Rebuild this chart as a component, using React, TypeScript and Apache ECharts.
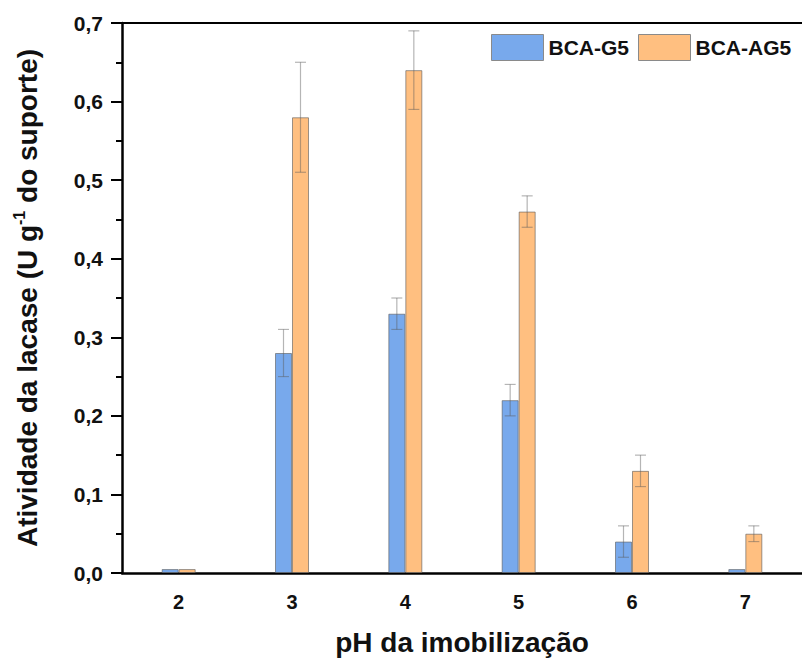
import React, { useEffect, useRef } from "react";
import * as echarts from "echarts";

const categories = ["2", "3", "4", "5", "6", "7"];
const g5Values = [0.005, 0.28, 0.33, 0.22, 0.04, 0.005];
const g5Errors = [0, 0.03, 0.02, 0.02, 0.02, 0];
const ag5Values = [0.005, 0.58, 0.64, 0.46, 0.13, 0.05];
const ag5Errors = [0, 0.07, 0.05, 0.02, 0.02, 0.01];
const seriesNames = ["BCA-G5", "BCA-AG5"];

const BAR_W = 17;
const FONT = "'Liberation Sans', Arial, sans-serif";

export default function App() {
  const ref = useRef<HTMLDivElement>(null);
  useEffect(() => {
    document.body.style.margin = "0";
    const chart = echarts.init(ref.current!, null, { renderer: "svg" });
    const errSeries = (name: string, vals: number[], errs: number[], offset: number) => ({
      type: "custom",
      name: name + "-err",
      z: 5,
      silent: true,
      data: vals.map((v, i) => [i, v, errs[i]]),
      renderItem: (params: any, api: any) => {
        const i = api.value(0);
        const v = api.value(1);
        const e = api.value(2);
        if (!e) return null;
        const top = api.coord([i, v + e]);
        const bot = api.coord([i, v - e]);
        const x = top[0] + offset;
        const cw = 5.5;
        const style = { stroke: "rgba(90,90,90,0.45)", lineWidth: 1.2 };
        return {
          type: "group",
          children: [
            { type: "line", shape: { x1: x, y1: top[1], x2: x, y2: bot[1] }, style },
            { type: "line", shape: { x1: x - cw, y1: top[1], x2: x + cw, y2: top[1] }, style },
            { type: "line", shape: { x1: x - cw, y1: bot[1], x2: x + cw, y2: bot[1] }, style },
          ],
        };
      },
    });
    chart.setOption({
      animation: false,
      grid: { left: 122, top: 23, width: 682, height: 550 },
      legend: {
        left: 486,
        top: 29,
        itemWidth: 52,
        itemHeight: 26,
        itemGap: 9,
        data: seriesNames,
        icon: "rect",
        itemStyle: { borderColor: "#8a8a8a", borderWidth: 1 },
        textStyle: { fontFamily: FONT, fontWeight: "bold", fontSize: 21, color: "#111" },
      },
      xAxis: [
        {
          type: "category",
          data: categories,
          position: "bottom",
          axisLine: { lineStyle: { color: "#000", width: 2.5 } },
          axisTick: { alignWithLabel: true, length: 10, lineStyle: { color: "#000", width: 2.5 } },
          axisLabel: { fontFamily: FONT, fontWeight: "bold", fontSize: 20, color: "#111", margin: 19 },
        },
        {
          type: "category",
          data: categories,
          position: "top",
          axisLine: { lineStyle: { color: "#000", width: 2 } },
          axisTick: { show: false },
          axisLabel: { show: false },
        },
      ],
      yAxis: {
        type: "value",
        min: 0,
        max: 0.7,
        interval: 0.1,
        axisLine: { show: true, lineStyle: { color: "#000", width: 2.5 } },
        axisTick: { show: true, length: 11, lineStyle: { color: "#000", width: 2 } },
        minorTick: { show: true, splitNumber: 2, length: 6, lineStyle: { color: "#000", width: 2 } },
        splitLine: { show: false },
        axisLabel: {
          fontFamily: FONT,
          fontWeight: "bold",
          fontSize: 21,
          color: "#111",
          margin: 19,
          formatter: (v: number) => v.toFixed(1).replace(".", ","),
        },
      },
      series: [
        {
          type: "bar",
          name: seriesNames[0],
          data: g5Values,
          barWidth: BAR_W,
          barGap: "0%",
          itemStyle: { color: "#78a9ec", borderColor: "rgba(90,90,90,0.6)", borderWidth: 1 },
        },
        {
          type: "bar",
          name: seriesNames[1],
          data: ag5Values,
          barWidth: BAR_W,
          barGap: "0%",
          itemStyle: { color: "#ffbf80", borderColor: "rgba(90,90,90,0.6)", borderWidth: 1 },
        },
        errSeries(seriesNames[0], g5Values, g5Errors, -BAR_W / 2),
        errSeries(seriesNames[1], ag5Values, ag5Errors, BAR_W / 2),
      ],
      graphic: [
        {
          type: "text",
          x: 27,
          y: 298,
          rotation: Math.PI / 2,
          style: {
            text: "{m|Atividade da lacase (U g}{s|-1}{m| do suporte)}",
            align: "center",
            verticalAlign: "middle",
            rich: {
              m: { fontFamily: FONT, fontWeight: "bold", fontSize: 28, fill: "#111", lineHeight: 32 },
              s: { fontFamily: FONT, fontWeight: "bold", fontSize: 16, fill: "#111", lineHeight: 16, verticalAlign: "top" },
            },
          },
        },
        {
          type: "text",
          x: 462,
          y: 642,
          style: {
            text: "pH da imobilização",
            fontFamily: FONT,
            fontWeight: "bold",
            fontSize: 28,
            fill: "#111",
            align: "center",
            verticalAlign: "middle",
          },
        },
      ],
    });
    return () => chart.dispose();
  }, []);
  return <div ref={ref} style={{ width: 802, height: 658 }} />;
}
